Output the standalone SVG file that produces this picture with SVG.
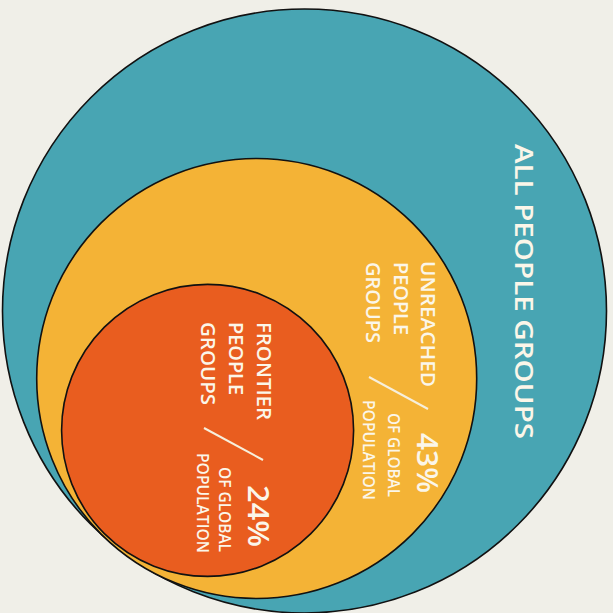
<svg xmlns="http://www.w3.org/2000/svg" width="613" height="613" viewBox="0 0 613 613">
  <style>
    .ring { stroke: #111; stroke-width: 1.6; }
    .lbl { font-family: "Open Sans", Lato, "Liberation Sans", sans-serif; fill: #fbf6e9; font-weight: 600; }
    .title { font-size: 20px; }
    .pct { font-size: 28px; }
    .sub { font-size: 16px; }
    .slash { stroke: #f6efdc; stroke-width: 2; fill: none; }
  </style>
  <rect width="613" height="613" fill="#f0efe8"/>
  <g id="all-people-groups">
    <circle class="ring" cx="304.5" cy="311" r="302" fill="#48a5b3"/>
    <text class="lbl" font-size="25" transform="translate(515 144) rotate(90)" textLength="295" lengthAdjust="spacingAndGlyphs">ALL PEOPLE GROUPS</text>
  </g>
  <g id="unreached-people-groups">
    <circle class="ring" cx="256.7" cy="378.5" r="220" fill="#f4b336"/>
    <text class="lbl title" transform="translate(421 261) rotate(90)" textLength="126" lengthAdjust="spacingAndGlyphs">UNREACHED</text>
    <text class="lbl title" transform="translate(394 262) rotate(90)" textLength="73" lengthAdjust="spacingAndGlyphs">PEOPLE</text>
    <text class="lbl title" transform="translate(366 262) rotate(90)" textLength="81" lengthAdjust="spacingAndGlyphs">GROUPS</text>
    <text class="lbl pct" transform="translate(417 433) rotate(90)" textLength="60" lengthAdjust="spacingAndGlyphs">43%</text>
    <text class="lbl sub" transform="translate(388 413) rotate(90)" textLength="84" lengthAdjust="spacingAndGlyphs">OF GLOBAL</text>
    <text class="lbl sub" font-size="15" transform="translate(363 400) rotate(90)" textLength="100" lengthAdjust="spacingAndGlyphs">POPULATION</text>
  </g>
  <g id="frontier-people-groups">
    <circle class="ring" cx="207.6" cy="430.4" r="146" fill="#e95d1f"/>
    <text class="lbl title" transform="translate(257 322) rotate(90)" textLength="98" lengthAdjust="spacingAndGlyphs">FRONTIER</text>
    <text class="lbl title" transform="translate(229 322) rotate(90)" textLength="73" lengthAdjust="spacingAndGlyphs">PEOPLE</text>
    <text class="lbl title" transform="translate(201 322) rotate(90)" textLength="83" lengthAdjust="spacingAndGlyphs">GROUPS</text>
    <text class="lbl pct" transform="translate(248 485) rotate(90)" textLength="62" lengthAdjust="spacingAndGlyphs">24%</text>
    <text class="lbl sub" transform="translate(219 467) rotate(90)" textLength="85" lengthAdjust="spacingAndGlyphs">OF GLOBAL</text>
    <text class="lbl sub" font-size="15" transform="translate(197 453) rotate(90)" textLength="100" lengthAdjust="spacingAndGlyphs">POPULATION</text>
  </g>
  <g id="connectors">
    <line class="slash" x1="369" y1="377" x2="428" y2="409"/>
    <line class="slash" x1="204" y1="428" x2="263" y2="460"/>
  </g>
</svg>
